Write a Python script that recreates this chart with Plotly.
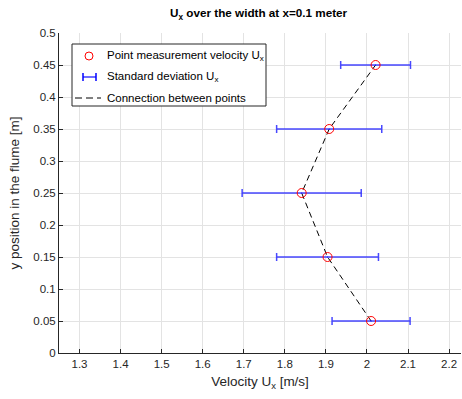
import plotly.graph_objects as go

# Data
y_pos = [0.05, 0.15, 0.25, 0.35, 0.45]
u_x = [2.010, 1.904, 1.841, 1.908, 2.021]
u_std = [0.095, 0.124, 0.145, 0.128, 0.085]
x_ticks = [1.3, 1.4, 1.5, 1.6, 1.7, 1.8, 1.9, 2.0, 2.1, 2.2]
x_tick_labels = ["1.3", "1.4", "1.5", "1.6", "1.7", "1.8", "1.9", "2", "2.1", "2.2"]
y_ticks = [0, 0.05, 0.1, 0.15, 0.2, 0.25, 0.3, 0.35, 0.4, 0.45, 0.5]
y_tick_labels = ["0", "0.05", "0.1", "0.15", "0.2", "0.25", "0.3", "0.35", "0.4", "0.45", "0.5"]

W, H = 462, 399
ML, MR, MT, MB = 59, 1, 33, 46
PW, PH = W - ML - MR, H - MT - MB
FONT = "Liberation Sans, Arial, Helvetica, sans-serif"
TXT = "#262626"


def px(x):
    return (x - ML) / PW


def py(y):
    return (H - MB - y) / PH


fig = go.Figure()

# connecting dashed line
fig.add_trace(go.Scatter(
    x=u_x, y=y_pos, mode="lines",
    line=dict(color="black", width=1, dash="6px,4px"),
    showlegend=False, hoverinfo="skip"))

# error bars
fig.add_trace(go.Scatter(
    x=u_x, y=y_pos, mode="markers",
    marker=dict(size=1, color="#0000ff"),
    error_x=dict(type="data", array=u_std, visible=True,
                 color="rgba(40,40,255,0.85)", thickness=1.5, width=4),
    showlegend=False))

# measurement points
fig.add_trace(go.Scatter(
    x=u_x, y=y_pos, mode="markers",
    marker=dict(symbol="circle-open", size=9, color="#ff0000",
                line=dict(width=1, color="#ff0000")),
    showlegend=False))

shapes = []
annotations = []

# custom legend box
lx0, lx1, ly0, ly1 = 72, 266, 44, 106
shapes.append(dict(type="rect", xref="paper", yref="paper",
                   x0=px(lx0), x1=px(lx1), y0=py(ly1), y1=py(ly0),
                   line=dict(color=TXT, width=1), fillcolor="white", layer="above"))
rows = [56, 77, 98]
# circle icon
shapes.append(dict(type="circle", xref="paper", yref="paper",
                   xsizemode="pixel", ysizemode="pixel",
                   xanchor=px(89), yanchor=py(rows[0]),
                   x0=-4, x1=4, y0=-4, y1=4,
                   line=dict(color="#ff0000", width=1), layer="above"))
# errorbar icon
shapes.append(dict(type="line", xref="paper", yref="paper",
                   x0=px(83), x1=px(96), y0=py(rows[1]), y1=py(rows[1]),
                   line=dict(color="rgba(40,40,255,0.9)", width=1.5), layer="above"))
for cx in (83, 96):
    shapes.append(dict(type="line", xref="paper", yref="paper",
                       x0=px(cx), x1=px(cx), y0=py(rows[1] - 4), y1=py(rows[1] + 4),
                       line=dict(color="#0000ff", width=1.5), layer="above"))
# dashed line icon
shapes.append(dict(type="line", xref="paper", yref="paper",
                   x0=px(75), x1=px(101), y0=py(rows[2]), y1=py(rows[2]),
                   line=dict(color="black", width=1, dash="7px,4px"), layer="above"))

labels = ["Point measurement velocity U<sub>x</sub>",
          "Standard deviation U<sub>x</sub>",
          "Connection between points"]
for r, t in zip(rows, labels):
    annotations.append(dict(x=px(105), y=py(r), xref="paper", yref="paper",
                            text=t, showarrow=False, xanchor="left", yanchor="middle",
                            font=dict(size=11.5, color="black", family=FONT)))

fig.update_layout(
    width=W, height=H,
    margin=dict(l=ML, r=MR, t=MT, b=MB),
    paper_bgcolor="white", plot_bgcolor="white",
    font=dict(family=FONT, size=11.5, color=TXT),
    title=dict(text="<b>U<sub>x</sub> over the width at x=0.1 meter</b>",
               x=(ML + PW / 2) / W - 0.003, xanchor="center", y=1 - 13 / H, yanchor="middle",
               font=dict(size=11.7, color="black", family=FONT)),
    xaxis=dict(range=[1.25, 2.229], tickvals=x_ticks, ticktext=x_tick_labels,
               showgrid=True, gridcolor="#e3e3e3", gridwidth=1,
               zeroline=False, showline=True, linecolor=TXT, linewidth=1,
               ticks="inside", ticklen=4, tickcolor=TXT,
               tickfont=dict(size=11.5, color=TXT),
               title=dict(text="Velocity U<sub>x</sub> [m/s]", standoff=7,
                          font=dict(size=13.5, color=TXT))),
    yaxis=dict(range=[0, 0.5], tickvals=y_ticks, ticktext=y_tick_labels,
               showgrid=True, gridcolor="#e3e3e3", gridwidth=1,
               zeroline=False, showline=True, linecolor=TXT, linewidth=1,
               ticks="inside", ticklen=4, tickcolor=TXT,
               tickfont=dict(size=11.5, color=TXT),
               title=dict(text="y position in the flume [m]", standoff=10,
                          font=dict(size=13.5, color=TXT))),
    shapes=shapes, annotations=annotations,
    showlegend=False,
)

fig.write_html("out.html", config={"displayModeBar": False},
               post_script="document.body.style.margin='0';document.body.style.padding='0';")
